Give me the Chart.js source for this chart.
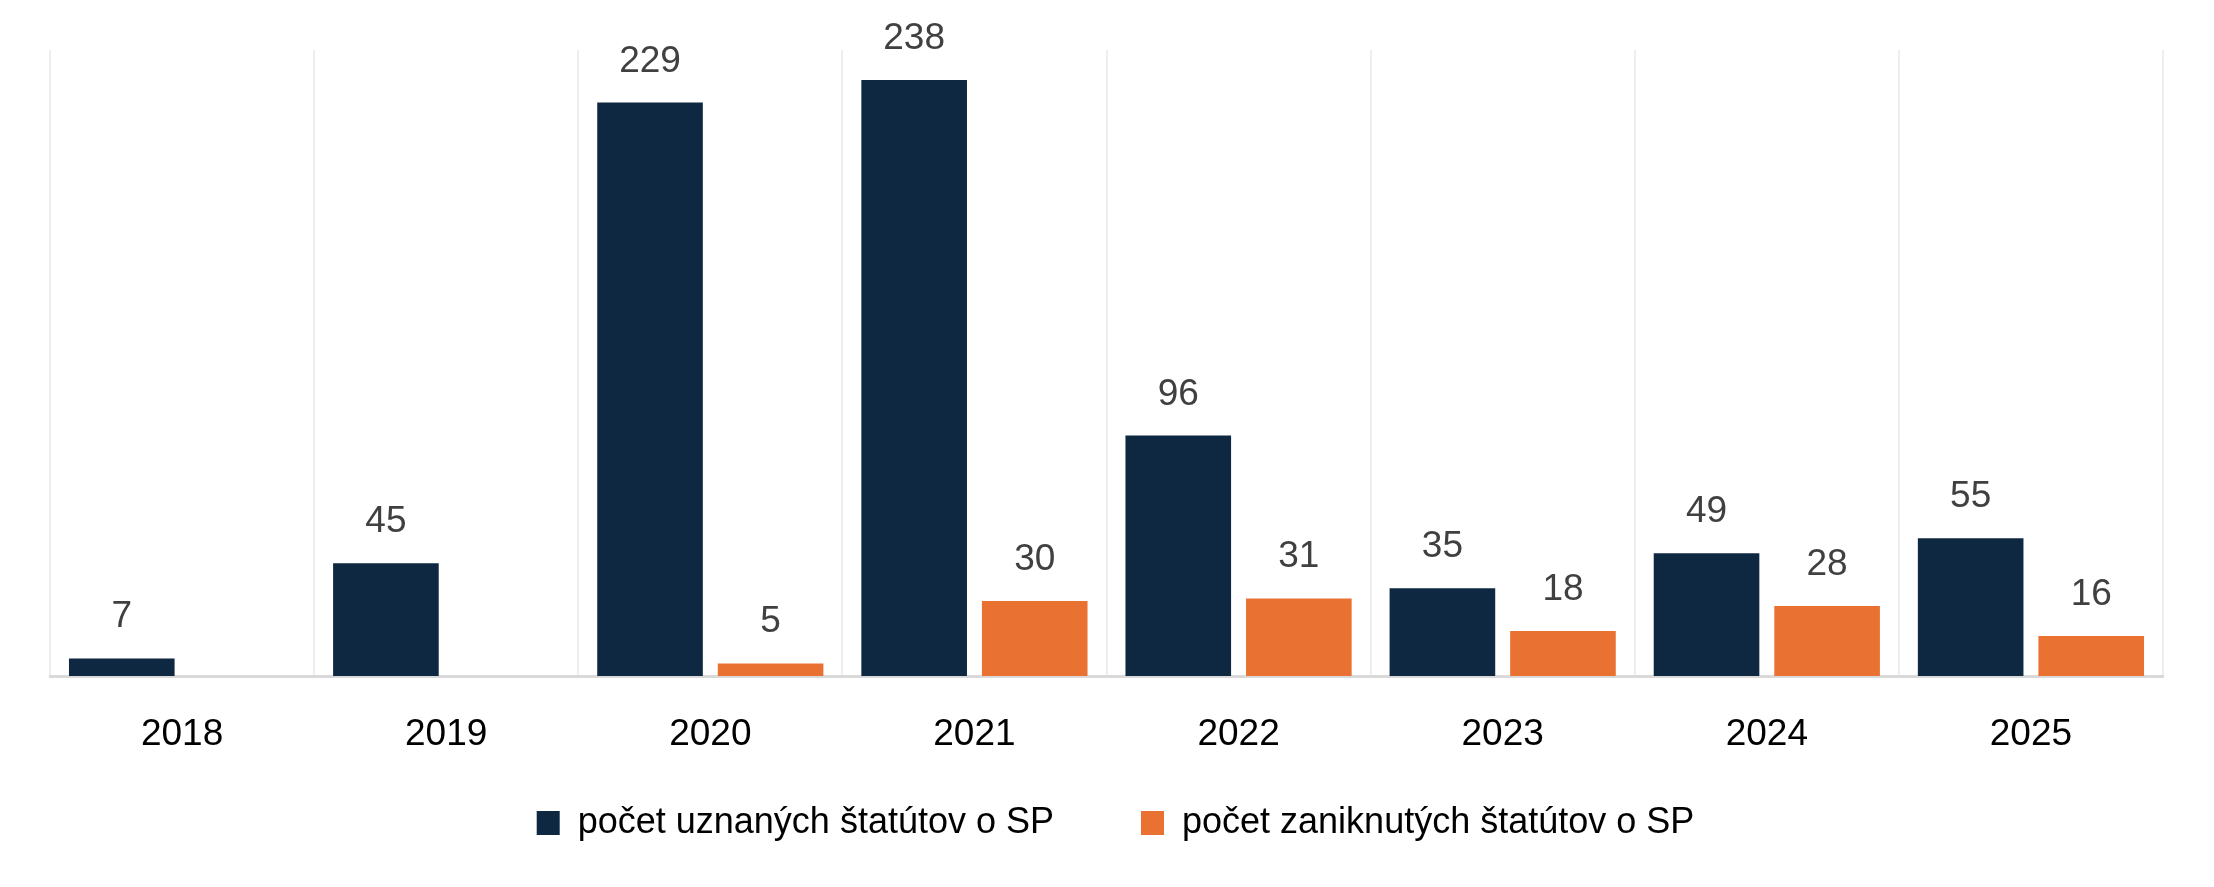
<!DOCTYPE html>
<html>
<head>
<meta charset="utf-8">
<script src="https://cdn.jsdelivr.net/npm/chart.js"></script>
<style>
    html, body { margin: 0; padding: 0; background: #fff; }
    #wrap { width: 2214px; height: 887px; position: relative; }
</style>
</head>
<body>
<div id="wrap"><canvas id="statsChart"></canvas></div>
<script>
// Data
const years = ['2018', '2019', '2020', '2021', '2022', '2023', '2024', '2025'];
const recognised = [7, 45, 229, 238, 96, 35, 49, 55];
const terminated = [null, null, 5, 30, 31, 18, 28, 16];
const seriesNames = ['počet uznaných štatútov o SP', 'počet zaniknutých štatútov o SP'];
const seriesColors = ['#0E2841', '#E97132'];

const FONT = '"Liberation Sans", Arial, sans-serif';

// Value labels above each bar
const valueLabels = {
    id: 'valueLabels',
    afterDatasetsDraw(chart) {
        const ctx = chart.ctx;
        ctx.save();
        ctx.font = '37px ' + FONT;
        ctx.fillStyle = '#404040';
        ctx.textAlign = 'center';
        ctx.textBaseline = 'alphabetic';
        chart.data.datasets.forEach((ds, i) => {
            const meta = chart.getDatasetMeta(i);
            meta.data.forEach((bar, j) => {
                const v = ds.data[j];
                if (v === null || v === undefined) return;
                ctx.fillText(String(v), bar.x, bar.y - 31);
            });
        });
        ctx.restore();
    }
};

// Legend padding is big (wide gap between items), so nudge the legend box
const legendLift = {
    id: 'legendLift',
    afterLayout(chart) {
        const lg = chart.legend;
        if (!lg) return;
        lg.top -= 36;
        lg.bottom -= 36;
        lg.left += 9;
        lg.right += 9;
    }
};

const ctx = document.getElementById('statsChart').getContext('2d');
const chart = new Chart(ctx, {
    type: 'bar',
    data: {
        labels: years,
        datasets: [
            {
                label: seriesNames[0],
                data: recognised,
                backgroundColor: seriesColors[0],
                categoryPercentage: 0.913,
                barPercentage: 0.876
            },
            {
                label: seriesNames[1],
                data: terminated,
                backgroundColor: seriesColors[1],
                categoryPercentage: 0.913,
                barPercentage: 0.876
            }
        ]
    },
    options: {
        responsive: true,
        maintainAspectRatio: false,
        animation: false,
        devicePixelRatio: 1,
        layout: {
            padding: { left: 50, right: 51, top: 50, bottom: 0 }
        },
        scales: {
            x: {
                grid: {
                    color: '#eeeeee',
                    lineWidth: 2,
                    drawTicks: false
                },
                border: {
                    color: '#d9d9d9',
                    width: 3
                },
                ticks: {
                    color: '#000000',
                    padding: 37,
                    font: { family: FONT, size: 37 }
                },
                afterFit(scale) {
                    scale.height = 78;
                }
            },
            y: {
                display: false,
                min: 0,
                max: 250
            }
        },
        plugins: {
            legend: {
                position: 'bottom',
                labels: {
                    color: '#000000',
                    boxWidth: 23,
                    boxHeight: 24,
                    padding: 87,
                    font: { family: FONT, size: 36 }
                }
            },
            tooltip: { enabled: false }
        }
    },
    plugins: [valueLabels, legendLift]
});
</script>
</body>
</html>
